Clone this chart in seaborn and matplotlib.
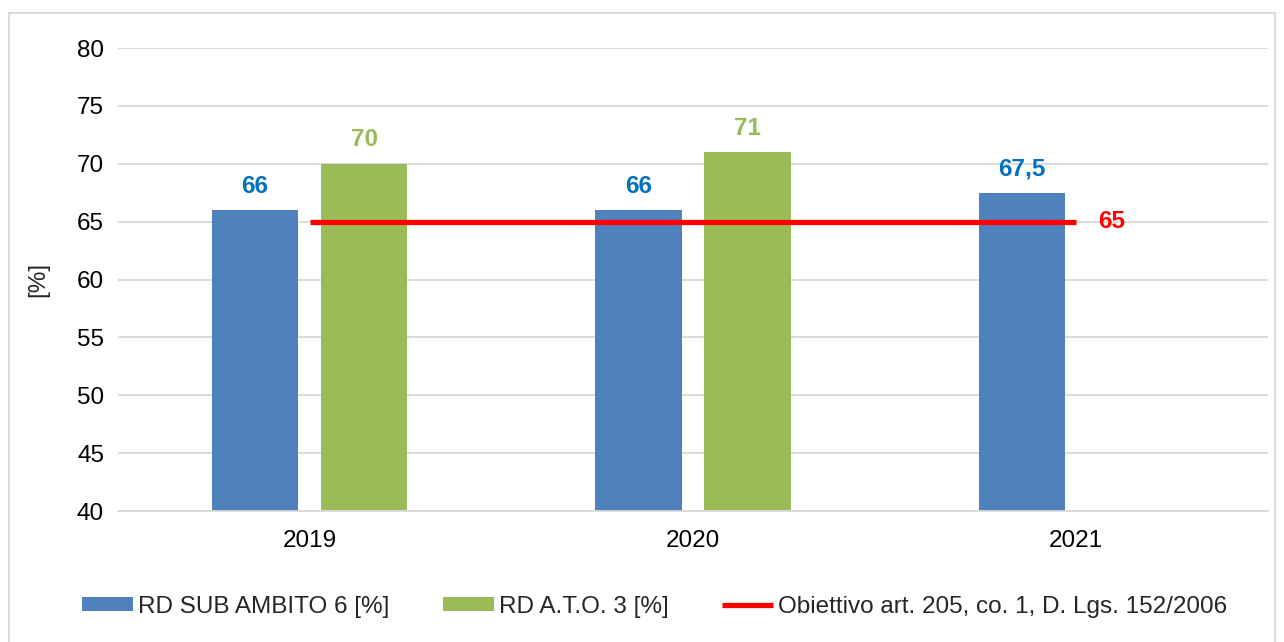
import matplotlib
matplotlib.use("Agg")
import matplotlib.pyplot as plt
import matplotlib.patches as mpatches
import seaborn as sns
import pandas as pd
import numpy as np

# Dati
anni = ['2019', '2020', '2021']
rd_sub_ambito = [66, 66, 67.5]
rd_ato = [70, 71, np.nan]
obiettivo = [65, 65, 65]
etichette_sub = ['66', '66', '67,5']
etichette_ato = ['70', '71', '']

serie_sub = 'RD SUB AMBITO 6 [%]'
serie_ato = 'RD A.T.O. 3 [%]'
serie_obiettivo = 'Obiettivo art. 205, co. 1, D. Lgs. 152/2006'

col_blu = '#4F81BD'
col_verde = '#9BBB59'
col_rosso = '#FF0000'
col_testo_blu = '#0070C0'

df = pd.DataFrame({
    'anno': anni * 2,
    'valore': rd_sub_ambito + rd_ato,
    'serie': [serie_sub] * 3 + [serie_ato] * 3,
})

sns.set_style("white")
plt.rcParams['font.family'] = ['Liberation Sans', 'DejaVu Sans']
FS = 17.5

fig = plt.figure(figsize=(12.84, 6.42), dpi=100)
ax = fig.add_axes([0.0919, 0.204, 0.8956, 0.7212])

sns.barplot(data=df, x='anno', y='valore', hue='serie', order=anni,
            hue_order=[serie_sub, serie_ato], palette=[col_blu, col_verde],
            saturation=1, width=0.57, gap=0.21, linewidth=0, ax=ax)

x_pos = np.arange(len(anni))
ax.plot(x_pos, obiettivo, color=col_rosso, lw=3.8, label=serie_obiettivo,
        solid_capstyle='butt')

# etichette dei dati
for cont, etichette, col in zip(ax.containers, [etichette_sub, etichette_ato],
                                [col_testo_blu, col_verde]):
    for rect, lab in zip(cont, etichette):
        h = rect.get_height()
        if lab == '' or np.isnan(h):
            continue
        ax.annotate(lab, (rect.get_x() + rect.get_width() / 2, h),
                    xytext=(0, 9), textcoords='offset points',
                    ha='center', va='bottom', fontsize=FS,
                    fontweight='bold', color=col)

ax.annotate(str(obiettivo[-1]), (x_pos[-1], obiettivo[-1]), xytext=(16, 0),
            textcoords='offset points', ha='left', va='center',
            fontsize=FS, fontweight='bold', color=col_rosso)

ax.set_ylim(40, 80)
ax.set_yticks(range(40, 81, 5))
ax.set_xlim(-0.5, 2.5)
ax.yaxis.grid(True, color='#D9D9D9', lw=1.3)
ax.set_axisbelow(True)
for s in ['top', 'right', 'left']:
    ax.spines[s].set_visible(False)
ax.spines['bottom'].set_color('#D9D9D9')
ax.spines['bottom'].set_linewidth(1.3)
ax.tick_params(axis='both', length=0, labelsize=FS, colors='black')
ax.tick_params(axis='x', pad=14)
ax.tick_params(axis='y', pad=10)
ax.set_xlabel('')
ax.set_ylabel('[%]', fontsize=FS, labelpad=20)

handles, labels = ax.get_legend_handles_labels()
ax.get_legend().remove()
fig.legend(handles, labels, loc='center', bbox_to_anchor=(0.51, 0.055),
           ncol=3, frameon=False, fontsize=FS, handlelength=2.1,
           handleheight=0.5, handletextpad=0.2, columnspacing=2.2)

# bordo esterno
fig.patches.append(mpatches.Rectangle((0.007, -0.01), 0.986, 0.99,
                                      transform=fig.transFigure, fill=False,
                                      edgecolor='#D9D9D9', lw=1.3))

fig.savefig('out.png', dpi=100)
